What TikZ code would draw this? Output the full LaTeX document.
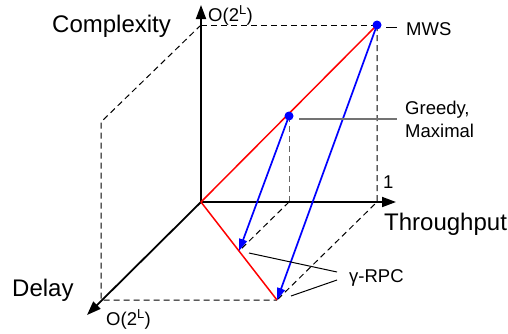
\documentclass[tikz,border=0pt]{standalone}
\usepackage{fontspec}
\setmainfont{Liberation Sans}
\usetikzlibrary{arrows.meta}
\begin{document}
\begin{tikzpicture}[x=1pt,y=-1pt,
 axis/.style={line width=1.8pt,-{Triangle[length=14pt,width=10pt]}},
 guide/.style={dash pattern=on 6pt off 4pt, line width=1pt},
 grayguide/.style={guide, draw=black!60},
 redline/.style={red, line width=1.5pt},
 bluearrow/.style={blue, line width=1.7pt, -{Triangle[length=12pt,width=8pt]}},
 dot/.style={circle, fill=blue, inner sep=0pt, minimum size=9pt},
 big/.style={inner sep=0pt, font=\fontsize{24}{28}\selectfont},
 small/.style={inner sep=0pt, font=\fontsize{18.5}{23}\selectfont},
 leader/.style={line width=1pt},
 grayleader/.style={line width=1.4pt, draw=black!55}
]
\useasboundingbox (0,0) rectangle (508,333);
% axis points
\coordinate (O) at (201,202);
\coordinate (ctop) at (201,5);
\coordinate (cmax) at (201,25);
\coordinate (ttip) at (396,202);
\coordinate (t1) at (377,202);
\coordinate (dtip) at (87,315);
\coordinate (dmax) at (101,300);
\coordinate (cd) at (101,122);
\coordinate (tg) at (289,202);
\coordinate (rb) at (277,300);
\coordinate (rm) at (239,251);
% dashed guides
\draw[guide] (cmax) -- (377,25);
\draw[guide] (cmax) -- (cd) -- (dmax) -- (rb);
\draw[guide] (377,25) -- (t1) -- (rb);
\draw[grayguide] (289,116) -- (tg);
\draw[guide] (tg) -- (rm);
% axes
\draw[axis] (O) -- (ctop);
\draw[axis] (O) -- (ttip);
\draw[axis] (O) -- (dtip);
% red lines
\draw[redline] (O) -- (377,25);
\draw[redline] (O) -- (rb);
% dots
\node[dot] (mws) at (377,25) {};
\node[dot] (greedy) at (289,116) {};
% blue arrows
\draw[bluearrow] (greedy.center) -- (rm);
\draw[bluearrow] (mws.center) -- (rb);
% labels
\node[big, anchor=base west] (lcomp) at (52,32) {Complexity};
\node[big, anchor=base west] (lthr) at (384,230) {Throughput};
\node[big, anchor=base west] (ldel) at (12,296) {Delay};
\node[small, anchor=base west] (lotop) at (208,21) {O(2\textsuperscript{L})};
\node[small, anchor=base west] (lobot) at (106,325) {O(2\textsuperscript{L})};
\node[small, anchor=base west] (lone) at (383,188) {1};
\node[small, anchor=base west] (lmws) at (406,35) {MWS};
\node[small, anchor=west, align=left] (lgreedy) at (405,119) {Greedy,\\Maximal};
\node[small, anchor=base west] (lrpc) at (349,282) {γ-RPC};
% leaders
\coordinate (m1) at (386,27);
\coordinate (m2) at (397,27);
\draw[leader] (m1) -- (m2);
\coordinate (g1) at (299,119);
\coordinate (g2) at (397,119);
\draw[grayleader] (g1) -- (g2);
\coordinate (r1) at (249,253);
\coordinate (r2) at (337,272);
\coordinate (r3) at (291,296);
\coordinate (r4) at (337,280);
\draw[leader] (r1) -- (r2);
\draw[leader] (r3) -- (r4);
\end{tikzpicture}
\end{document}
